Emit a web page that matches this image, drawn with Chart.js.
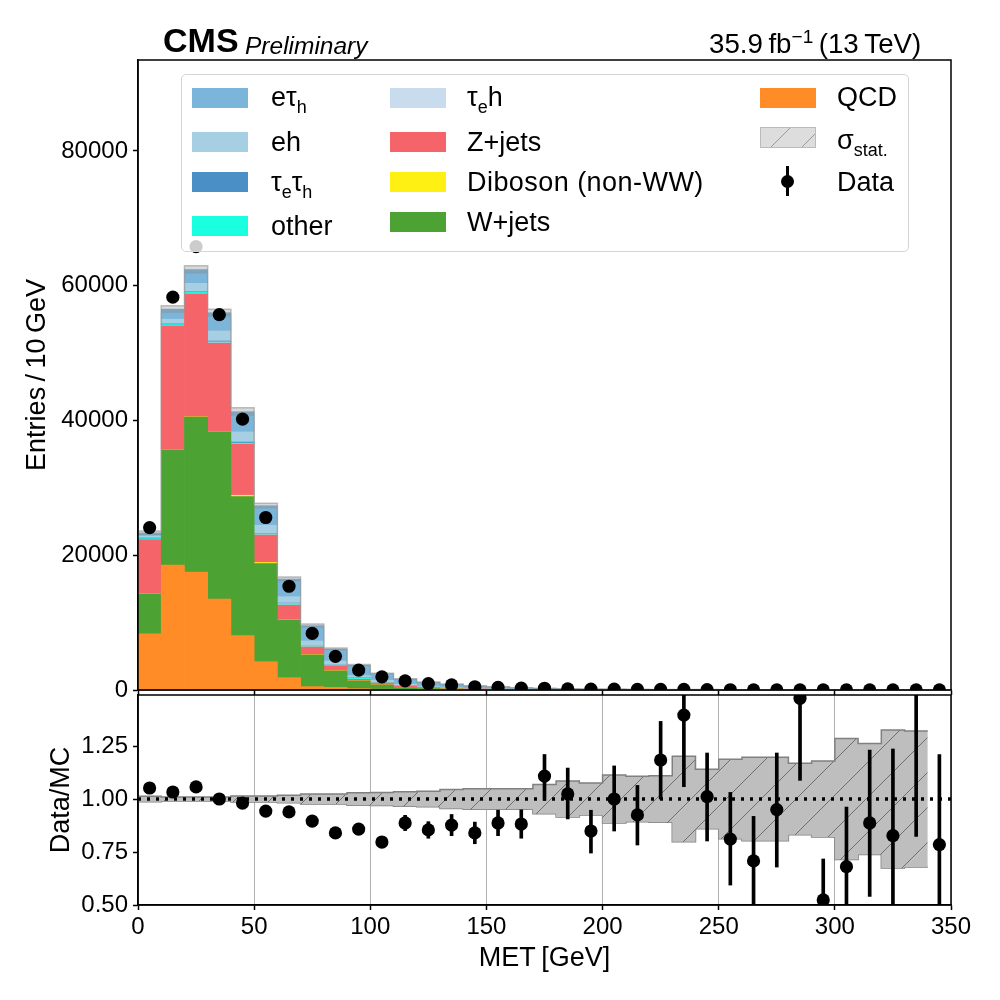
<!DOCTYPE html>
<html>
<head>
<meta charset="utf-8">
<script src="https://cdn.jsdelivr.net/npm/chart.js@4"></script>
<style>
    html, body { margin: 0; padding: 0; background: #fff; }
    body { width: 1000px; height: 1000px; position: relative; overflow: hidden; font-family: "Liberation Sans", Arial, sans-serif; color: #000; }
    canvas { position: absolute; left: 0; }
    #upper { top: 0; }
    #lower { top: 685px; }
    .txt { position: absolute; white-space: nowrap; line-height: 1; }
    #legend { position: absolute; left: 181px; top: 74px; width: 726px; height: 176px; background: rgba(255,255,255,0.8); border: 1px solid #d5d5d5; border-radius: 5px; }
    .swatch { position: absolute; width: 56px; height: 20px; }
    .label { position: absolute; font-size: 27px; line-height: 1; white-space: nowrap; }
    .label sub { font-size: 18px; line-height: 0; vertical-align: -7px; }
</style>
</head>
<body>
<canvas id="upper" width="1000" height="700"></canvas>
<canvas id="lower" width="1000" height="315"></canvas>

<div class="txt" style="left:163px;top:23px;font-size:34px;font-weight:bold;">CMS</div>
<div class="txt" style="left:245px;top:34px;font-size:24.5px;font-style:italic;">Preliminary</div>
<div class="txt" style="left:709px;top:30px;font-size:27.7px;">35.9&#8201;fb<sup style="font-size:19px;line-height:0;vertical-align:10px;">&#8722;1</sup>&#8201;(13&#8201;TeV)</div>

<div id="legend"></div>

<script>
const qcd = [8350,18550,17500,13500,8060,4200,1830,500,400,200,120,50,30,20,12,8,5,3,2,2,1,1,1,1,1,0,0,0,0,0,0,0,0,0,0];
const wjets = [5940,17050,23000,24800,20640,14550,8570,4700,2420,1135,620,300,190,130,90,70,45,30,22,18,14,10,8,7,5,5,4,3,2,2,2,1,1,1,1];
const diboson = [20,30,40,40,200,180,60,30,20,10,5,5,3,2,2,1,1,1,1,0,0,0,0,0,0,0,0,0,0,0,0,0,0,0,0];
const zjets = [8000,18430,18260,13160,7600,4070,2140,1150,760,245,295,245,150,100,70,50,35,25,18,14,11,9,7,6,5,4,3,3,2,2,1,1,1,1,1];
const tauEh = [50,50,50,40,30,30,20,20,10,10,5,5,3,2,2,1,1,1,0,0,0,0,0,0,0,0,0,0,0,0,0,0,0,0,0];
const other = [100,120,150,150,120,170,240,80,60,200,60,40,25,20,15,10,8,6,4,3,3,2,2,1,1,1,1,1,0,0,0,0,0,0,0];
const tauEtauH = [100,100,100,100,150,30,40,30,30,20,20,15,10,8,6,5,4,3,2,2,1,1,1,1,1,1,0,0,0,0,0,0,0,0,0];
const eh = [300,700,1250,1500,1500,1220,950,760,600,300,300,190,120,90,60,45,30,22,16,12,10,8,6,5,4,3,3,2,2,2,1,1,1,1,0];
const eTauH = [450,1500,2050,2700,3000,2900,2620,2280,1780,1540,1000,780,620,480,330,260,190,160,120,95,80,65,50,42,35,30,26,22,18,15,13,10,9,8,7];
const dataCounts = [24100,58300,65800,55700,40200,25600,15400,8400,5000,2950,1950,1350,950,750,480,400,280,260,170,125,120,90,90,85,46,33,24,22,26,9,9,10,8,12,6];

const ratio = [1.052,1.033,1.057,1.0,0.981,0.943,0.939,0.896,0.84,0.858,0.797,0.887,0.854,0.877,0.84,0.887,0.882,1.108,1.024,0.849,1.0,0.925,1.184,1.396,1.011,0.811,0.708,0.95,1.475,0.524,0.681,0.887,0.827,1.6,0.785];
const ratioLo = [1.045,1.026,1.05,0.995,0.975,0.935,0.93,0.885,0.825,0.84,0.775,0.851,0.815,0.827,0.789,0.827,0.815,0.994,0.906,0.745,0.849,0.783,1.0,1.058,0.802,0.594,0.49,0.679,1.088,0.3,0.4,0.541,0.42,0.824,0.36];
const ratioHi = [1.059,1.04,1.064,1.005,0.987,0.951,0.948,0.907,0.855,0.876,0.819,0.923,0.893,0.927,0.891,0.947,0.949,1.21,1.146,0.947,1.156,1.064,1.366,1.7,1.217,1.031,0.918,1.217,1.9,0.717,0.962,1.231,1.236,2.4,1.21];
const statErr = [0.0126,0.009,0.009,0.009,0.014,0.014,0.018,0.024,0.024,0.03,0.031,0.034,0.036,0.045,0.048,0.048,0.048,0.069,0.085,0.076,0.113,0.107,0.11,0.202,0.14,0.187,0.197,0.197,0.169,0.179,0.285,0.262,0.325,0.321];

const upperTicks = [0,20000,40000,60000,80000];
const ratioTicks = [0.5,0.75,1.0,1.25];

const binWidth = 10;
const xMax = 350;
const fontFamily = '"Liberation Sans", Arial, sans-serif';

const stackSeries = [
    { name: "QCD", values: qcd, color: "#ff8c26" },
    { name: "W+jets", values: wjets, color: "#4ca233" },
    { name: "Diboson (non-WW)", values: diboson, color: "#fff014" },
    { name: "Z+jets", values: zjets, color: "#f46468" },
    { name: "teh", values: tauEh, color: "#c9dcee" },
    { name: "other", values: other, color: "#1affdf" },
    { name: "tetah", values: tauEtauH, color: "#4a8fc6" },
    { name: "eh", values: eh, color: "#a6cfe4" },
    { name: "etah", values: eTauH, color: "#7bb5d9" }
];

function binCentre(i){ return i * binWidth + binWidth / 2; }

// step outline: one point per left bin edge, plus the closing edge
function stepPoints(values){
    const pts = values.map((v, i) => ({ x: i * binWidth, y: v }));
    pts.push({ x: values.length * binWidth, y: values[values.length - 1] });
    return pts;
}

function hatchPattern(bg, line, size){
    const c = document.createElement("canvas");
    c.width = size; c.height = size;
    const g = c.getContext("2d");
    if (bg) { g.fillStyle = bg; g.fillRect(0, 0, size, size); }
    g.strokeStyle = line;
    g.lineWidth = 1;
    g.beginPath();
    g.moveTo(-2, size + 2); g.lineTo(size + 2, -2);
    g.moveTo(-2, 2); g.lineTo(2, -2);
    g.moveTo(size - 2, size + 2); g.lineTo(size + 2, size - 2);
    g.stroke();
    return g.createPattern(c, "repeat");
}

const frame = {
    id: "frame",
    afterDraw(chart){
        const { ctx, chartArea: a } = chart;
        ctx.save();
        ctx.strokeStyle = "#000";
        ctx.lineWidth = 1.5;
        ctx.strokeRect(a.left, a.top, a.right - a.left, a.bottom - a.top);
        ctx.restore();
    }
};

// the panels are pinned to fixed pixel boxes, so tick labels may not pull the plot area in
function fixBox(s, w, h){
    if (w) s.width = w;
    if (h) s.height = h;
    s.paddingTop = s.paddingBottom = s.paddingLeft = s.paddingRight = 0;
}

function yTickOptions(){
    return { color: "#000", font: { family: fontFamily, size: 24 }, padding: 5 };
}

// upper panel
const totals = qcd.map((_, i) => stackSeries.reduce((s, d) => s + d.values[i], 0));
const statBins = statErr.map((_, i) => i);
const upperDatasets = stackSeries.map(s => ({
    type: "bar",
    label: s.name,
    data: s.values.map((v, i) => ({ x: binCentre(i), y: v })),
    backgroundColor: s.color,
    stack: "mc",
    order: 3,
    barPercentage: 1,
    categoryPercentage: 1
}));
upperDatasets.push({
    type: "line",
    label: "stat up",
    data: stepPoints(statBins.map(i => totals[i] * (1 + statErr[i]))),
    stepped: true,
    borderColor: "rgba(150,150,150,0.6)",
    borderWidth: 1.5,
    pointRadius: 0,
    fill: "+1",
    backgroundColor: "rgba(130,130,130,0.3)",
    order: 2
});
upperDatasets.push({
    type: "line",
    label: "stat down",
    data: stepPoints(statBins.map(i => totals[i] * (1 - statErr[i]))),
    stepped: true,
    borderColor: "rgba(150,150,150,0.3)",
    borderWidth: 1,
    pointRadius: 0,
    fill: false,
    order: 2
});
upperDatasets.push({
    type: "line",
    label: "Data",
    data: dataCounts.map((v, i) => ({ x: binCentre(i), y: v })),
    showLine: false,
    pointRadius: 6.6,
    pointBackgroundColor: "#000",
    pointBorderWidth: 0,
    order: 1
});

new Chart(document.getElementById("upper"), {
    type: "bar",
    data: { datasets: upperDatasets },
    options: {
        responsive: false,
        animation: false,
        devicePixelRatio: 1,
        layout: { padding: { top: 60, right: 49, left: 0, bottom: 0 } },
        plugins: { legend: { display: false }, tooltip: { enabled: false }, title: { display: false } },
        scales: {
            x: {
                type: "linear", min: 0, max: xMax, offset: false,
                grid: { offset: false, drawOnChartArea: false, tickColor: "#000", tickWidth: 1.5, tickLength: 5 },
                border: { color: "#000", width: 1.5 },
                ticks: { stepSize: 50, display: false },
                afterFit(s){ fixBox(s, 0, 10); }
            },
            y: {
                min: 0, max: 93500,
                afterBuildTicks(s){ s.ticks = upperTicks.map(v => ({ value: v })); },
                grid: { drawOnChartArea: false, tickColor: "#000", tickWidth: 1.5, tickLength: 5 },
                border: { color: "#000", width: 1.5 },
                ticks: Object.assign(yTickOptions(), { callback: v => String(v) }),
                title: {
                    display: true,
                    text: "Entries\u2009/\u200910\u2009GeV",
                    color: "#000",
                    font: { family: fontFamily, size: 27 },
                    padding: { top: 21, bottom: 0 }
                },
                afterFit(s){ fixBox(s, 138, 0); }
            }
        }
    },
    plugins: [frame]
});

// lower panel
const lowerDatasets = [
    {
        type: "line",
        label: "unity",
        data: [{ x: 0, y: 1 }, { x: xMax, y: 1 }],
        borderColor: "#000",
        borderWidth: 3.5,
        borderDash: [3, 6],
        pointRadius: 0,
        fill: false,
        order: 3
    },
    {
        type: "line",
        label: "stat up",
        data: stepPoints(statErr.map(e => 1 + e)),
        stepped: true,
        borderColor: "#808080",
        borderWidth: 1.5,
        pointRadius: 0,
        fill: "+1",
        backgroundColor: hatchPattern("#bebebe", "#6f6f6f", 35),
        order: 4
    },
    {
        type: "line",
        label: "stat down",
        data: stepPoints(statErr.map(e => 1 - e)),
        stepped: true,
        borderColor: "#808080",
        borderWidth: 1.5,
        pointRadius: 0,
        fill: false,
        order: 4
    },
    {
        type: "bar",
        label: "Data error",
        data: ratio.map((_, i) => ({ x: binCentre(i), y: [ratioLo[i], ratioHi[i]] })),
        backgroundColor: "#000",
        barThickness: 3,
        grouped: false,
        order: 2
    },
    {
        type: "line",
        label: "Data/MC",
        data: ratio.map((v, i) => ({ x: binCentre(i), y: v })),
        showLine: false,
        pointRadius: 6.6,
        pointBackgroundColor: "#000",
        pointBorderWidth: 0,
        order: 1
    }
];

new Chart(document.getElementById("lower"), {
    type: "bar",
    data: { datasets: lowerDatasets },
    options: {
        responsive: false,
        animation: false,
        devicePixelRatio: 1,
        layout: { padding: { top: 10, right: 49, left: 0, bottom: 0 } },
        plugins: { legend: { display: false }, tooltip: { enabled: false }, title: { display: false } },
        scales: {
            x: {
                type: "linear", min: 0, max: xMax, offset: false,
                grid: { offset: false, color: "#b0b0b0", lineWidth: 1, tickColor: "#000", tickWidth: 1.5, tickLength: 5 },
                border: { color: "#000", width: 1.5 },
                ticks: { stepSize: 50, color: "#000", font: { family: fontFamily, size: 24 }, padding: 3, maxRotation: 0, autoSkip: false },
                title: {
                    display: true,
                    text: "MET\u2009[GeV]",
                    color: "#000",
                    font: { family: fontFamily, size: 27 },
                    padding: { top: 0, bottom: 25 }
                },
                afterFit(s){ fixBox(s, 0, 95); }
            },
            y: {
                min: 0.5, max: 1.4906,
                afterBuildTicks(s){ s.ticks = ratioTicks.map(v => ({ value: v })); },
                grid: { drawOnChartArea: false, tickColor: "#000", tickWidth: 1.5, tickLength: 5 },
                border: { color: "#000", width: 1.5 },
                ticks: Object.assign(yTickOptions(), { callback: v => v.toFixed(2) }),
                title: {
                    display: true,
                    text: "Data/MC",
                    color: "#000",
                    font: { family: fontFamily, size: 27 },
                    padding: { top: 45, bottom: 0 }
                },
                afterFit(s){ fixBox(s, 138, 0); }
            }
        }
    },
    plugins: [frame]
});

// legend, laid out like the reference's three columns
const legendOffsetX = 182;
const legendOffsetY = 75;
const legendEntries = [
    { html: "e&tau;<sub>h</sub>", color: "#7bb5d9", x: 192, swatchY: 88, textY: 84 },
    { html: "eh", color: "#a6cfe4", x: 192, swatchY: 132, textY: 129 },
    { html: "&tau;<sub>e</sub>&tau;<sub>h</sub>", color: "#4a8fc6", x: 192, swatchY: 172, textY: 169 },
    { html: "other", color: "#1affdf", x: 192, swatchY: 216, textY: 213 },
    { html: "&tau;<sub>e</sub>h", color: "#c9dcee", x: 390, swatchY: 88, textY: 84 },
    { html: "Z+jets", color: "#f46468", x: 390, swatchY: 132, textY: 129 },
    { html: "<span style='letter-spacing:0.45px'>Diboson (non-WW)</span>", color: "#fff014", x: 390, swatchY: 172, textY: 169 },
    { html: "W+jets", color: "#4ca233", x: 390, swatchY: 212, textY: 209 },
    { html: "QCD", color: "#ff8c26", x: 760, swatchY: 88, textY: 84 }
];
const legendEl = document.getElementById("legend");
function addEl(cls, style, html){
    const el = document.createElement("div");
    el.className = cls;
    el.style.cssText = style;
    if (html) el.innerHTML = html;
    legendEl.appendChild(el);
}
legendEntries.forEach(e => {
    addEl("swatch", `left:${e.x - legendOffsetX}px;top:${e.swatchY - legendOffsetY}px;background:${e.color};`);
    const tx = e.x === 192 ? 271 : e.x === 390 ? 467 : 837;
    addEl("label", `left:${tx - legendOffsetX}px;top:${e.textY - legendOffsetY}px;`, e.html);
});
addEl("swatch", `left:${760 - legendOffsetX}px;top:${127 - legendOffsetY}px;height:21px;box-sizing:border-box;border:1px solid #bbb;background:repeating-linear-gradient(135deg,#ddd 0,#ddd 20px,#999 20px,#999 21px,#ddd 21px,#ddd 22px);`);
addEl("label", `left:${837 - legendOffsetX}px;top:${127 - legendOffsetY}px;`, "&sigma;<sub>stat.</sub>");
addEl("swatch", `left:${786 - legendOffsetX}px;top:${166 - legendOffsetY}px;width:3px;height:30px;background:#000;`);
addEl("swatch", `left:${781 - legendOffsetX}px;top:${175 - legendOffsetY}px;width:13px;height:13px;border-radius:50%;background:#000;`);
addEl("label", `left:${837 - legendOffsetX}px;top:${169 - legendOffsetY}px;`, "Data");
</script>
</body>
</html>
